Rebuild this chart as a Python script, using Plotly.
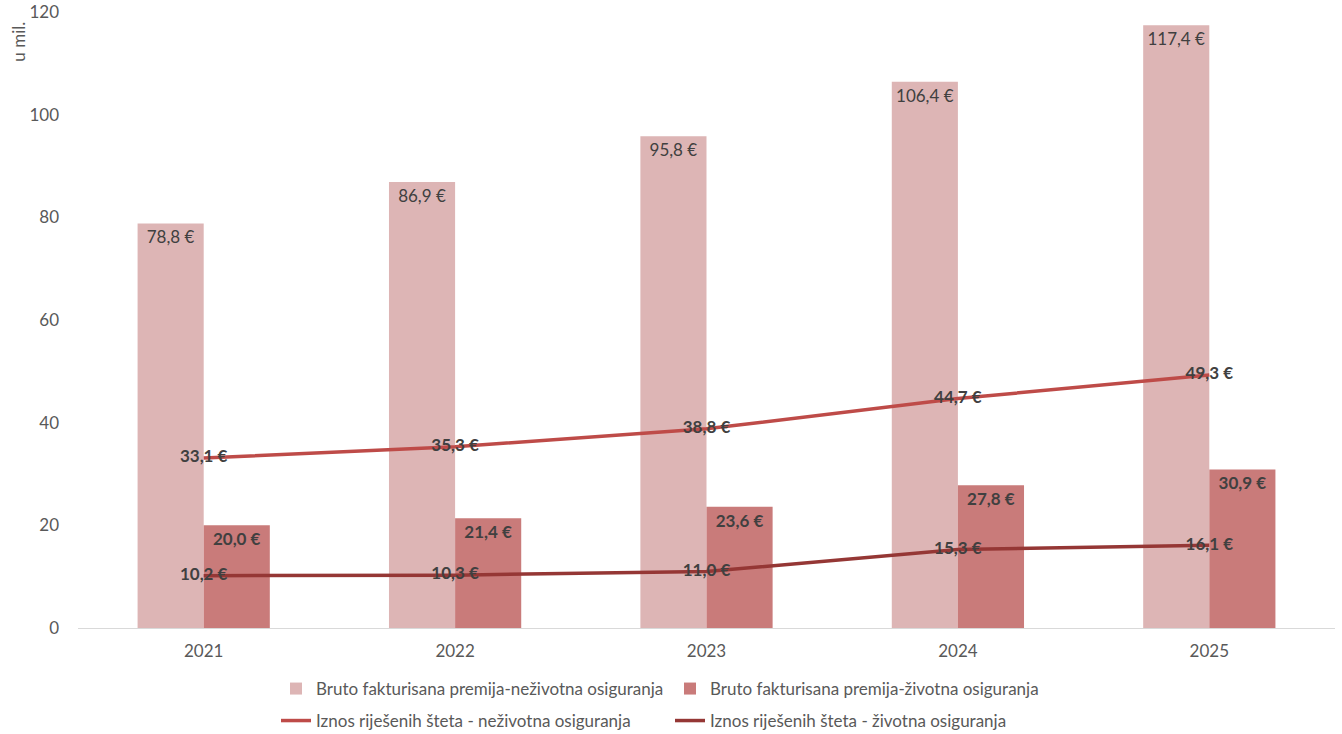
import plotly.graph_objects as go

years = ["2021", "2022", "2023", "2024", "2025"]
premija_nezivotna = [78.8, 86.9, 95.8, 106.4, 117.4]
premija_zivotna = [20.0, 21.4, 23.6, 27.8, 30.9]
stete_nezivotna = [33.1, 35.3, 38.8, 44.7, 49.3]
stete_zivotna = [10.2, 10.3, 11.0, 15.3, 16.1]

names = [
    "Bruto fakturisana premija-neživotna osiguranja",
    "Bruto fakturisana premija-životna osiguranja",
    "Iznos riješenih šteta - neživotna osiguranja",
    "Iznos riješenih šteta - životna osiguranja",
]

def lab(vals):
    return [f"{v:.1f}".replace(".", ",") + " €" for v in vals]

FONT = "Lato, 'Open Sans', sans-serif"
LBL = "#404040"
FS = 17
W, H = 1342, 734

fig = go.Figure()
fig.add_trace(go.Bar(
    x=years, y=premija_nezivotna, name=names[0],
    marker=dict(color="#DDB5B5", line=dict(width=0)),
    text=lab(premija_nezivotna), textposition="inside", insidetextanchor="end",
    textfont=dict(family=FONT, size=FS, color=LBL), textangle=0,
    legend="legend",
))
fig.add_trace(go.Bar(
    x=years, y=premija_zivotna, name=names[1],
    marker=dict(color="#C97B7A", line=dict(width=0)),
    text=["<b>" + t + "</b>" for t in lab(premija_zivotna)], textposition="inside", insidetextanchor="end",
    textfont=dict(family=FONT, size=FS, color=LBL), textangle=0,
    legend="legend",
))
fig.add_trace(go.Scatter(
    x=years, y=stete_nezivotna, name=names[2], mode="lines+text",
    line=dict(color="#BE4B48", width=3.5),
    text=["<b>" + t + "</b>" for t in lab(stete_nezivotna)], textposition="middle center",
    textfont=dict(family=FONT, size=FS, color=LBL),
    legend="legend2",
))
fig.add_trace(go.Scatter(
    x=years, y=stete_zivotna, name=names[3], mode="lines+text",
    line=dict(color="#953735", width=3.5),
    text=["<b>" + t + "</b>" for t in lab(stete_zivotna)], textposition="middle center",
    textfont=dict(family=FONT, size=FS, color=LBL),
    legend="legend2",
))

LX = (318 - 42) / W

fig.update_layout(
    width=W, height=H,
    margin=dict(l=78, r=7, t=12, b=106, autoexpand=False),
    paper_bgcolor="white", plot_bgcolor="white",
    font=dict(family=FONT, size=FS, color="#595959"),
    barmode="group", bargap=0.474, bargroupgap=0,
    uniformtext=dict(mode="show", minsize=FS),
    showlegend=True,
    legend=dict(orientation="h", xref="container", yref="container",
                x=LX, xanchor="left", y=1 - 689 / H, yanchor="middle",
                font=dict(family=FONT, size=FS, color="#595959"),
                itemwidth=30, entrywidth=349, entrywidthmode="pixels"),
    legend2=dict(orientation="h", xref="container", yref="container",
                 x=LX, xanchor="left", y=1 - 721 / H, yanchor="middle",
                 font=dict(family=FONT, size=FS, color="#595959"),
                 itemwidth=30, entrywidth=349, entrywidthmode="pixels"),
    xaxis=dict(showline=True, linecolor="#D9D9D9", linewidth=1, ticks="",
               showgrid=False, tickfont=dict(size=FS, color="#595959"),
               automargin=False, ticklabelstandoff=8),
    yaxis=dict(range=[0, 120], dtick=20, showgrid=False, zeroline=False,
               showline=False, ticks="", tickfont=dict(size=FS, color="#595959"),
               ticklabelstandoff=18, automargin=False, ticklabeloverflow="allow"),
    annotations=[dict(text="u mil.", textangle=-90, xref="paper", yref="paper",
                      x=-0.048, y=1 - 8 / 616, xanchor="center", yanchor="top",
                      showarrow=False, font=dict(family=FONT, size=FS, color="#595959"))],
)

fig.write_html("out.html", config={"displayModeBar": False},
               post_script="document.body.style.margin='0';document.body.style.overflow='hidden';")
